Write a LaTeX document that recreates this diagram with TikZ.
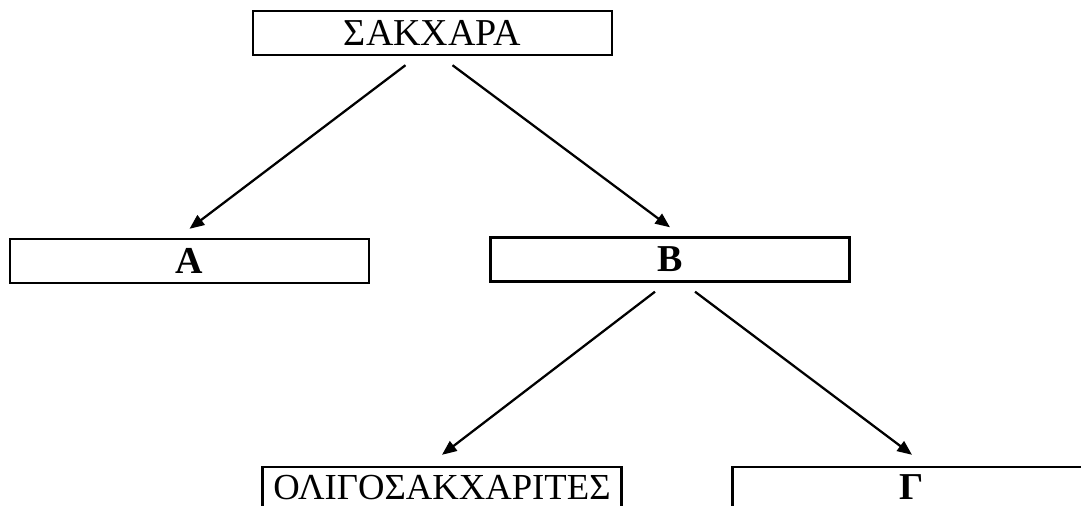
\documentclass[tikz,border=0pt]{standalone}
\usepackage{fontspec}
\setmainfont{Liberation Serif}
\usetikzlibrary{arrows.meta,calc}

\begin{document}
\begin{tikzpicture}
[x = 0.75pt, y = -0.75pt,
 every node/.style = {font = \fontsize{28.5}{32}\selectfont},
 box/.style = {draw, line width = 1.8pt, minimum width = 269pt, minimum height = 33pt, inner sep = 0pt},
 lowbox/.style = {box, minimum height = 30.75pt},
 arr/.style = {line width = 1.7pt, -{Triangle[length = 11pt, width = 9pt]}}]

% page frame
\useasboundingbox (0,0) rectangle (1081,506);
\clip (0,0) rectangle (1081,506);

%%%%%%%%%%% BOXES
\node[box](sakx) at (432.5,33) {ΣΑΚΧΑΡΑ};
\node[box](a) at (189.5,261) {\textbf{Α}};
\node[box](b) at (670,259.5) {\textbf{Β}};
\node[lowbox, font = \fontsize{27.5}{32}\selectfont](olig) at (442,487.5) {ΟΛΙΓΟΣΑΚΧΑΡΙΤΕΣ};
\node[lowbox](gamma) at (912,487.5) {\textbf{Γ}};

%%%%%%%%%%% ARROWS
\draw[arr] ($(sakx.south)+(-27,9)$) -- ($(a.north)+(0,-9)$);
\draw[arr] ($(sakx.south)+(20,9)$) -- ($(b.north)+(0,-9)$);
\draw[arr] ($(b.south)+(-15,9)$) -- ($(olig.north)+(0,-11)$);
\draw[arr] ($(b.south)+(25,9)$) -- ($(gamma.north)+(0,-11)$);

\end{tikzpicture}
\end{document}
